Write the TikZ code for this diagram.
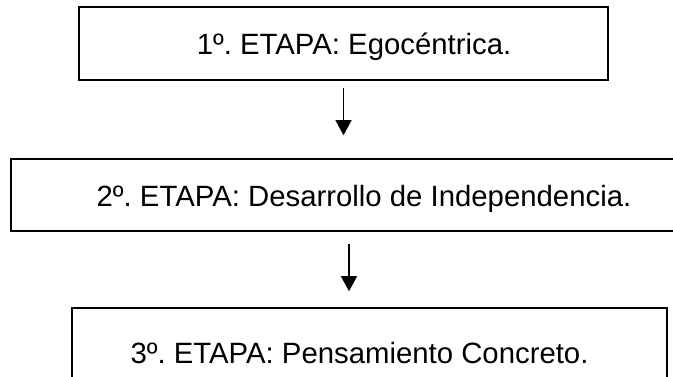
\documentclass[tikz,border=0pt]{standalone}
\usepackage{fontspec}
\setmainfont{Liberation Sans}
\usetikzlibrary{arrows.meta}
\frenchspacing
\begin{document}
\begin{tikzpicture}[
    x=0.75pt, y=-0.75pt,
    every node/.style={font=\fontsize{22pt}{26pt}\selectfont},
    etapa/.style={draw, line width=1.2pt, inner sep=0pt, text height=17.25pt, text depth=0pt},
    flow/.style={-{Triangle[length=11.25pt, width=12pt]}, line width=1pt},
]
\clip (0,0) rectangle (673,377);
\node[etapa, minimum width=396.75pt, minimum height=54.75pt] (etapa1) at (343.5,43.5) {\hspace*{15.75pt}1º. ETAPA: Egocéntrica.};
\node[etapa, minimum width=529.5pt, minimum height=54pt] (etapa2) at (364,195) {2º. ETAPA: Desarrollo de Independencia.};
\node[etapa, minimum width=446.25pt, minimum height=66pt] (etapa3) at (369.5,352) {3º. ETAPA: Pensamiento Concreto.\hspace*{15pt}};
\draw[flow, shorten <=5.25pt, shorten >=17.25pt] (etapa1.south) -- (etapa1.south |- etapa2.north);
\draw[flow, shorten <=9pt, shorten >=12pt] ([xshift=-11.25pt]etapa2.south) -- ([xshift=-11.25pt]etapa2.south |- etapa3.north);
\end{tikzpicture}
\end{document}
